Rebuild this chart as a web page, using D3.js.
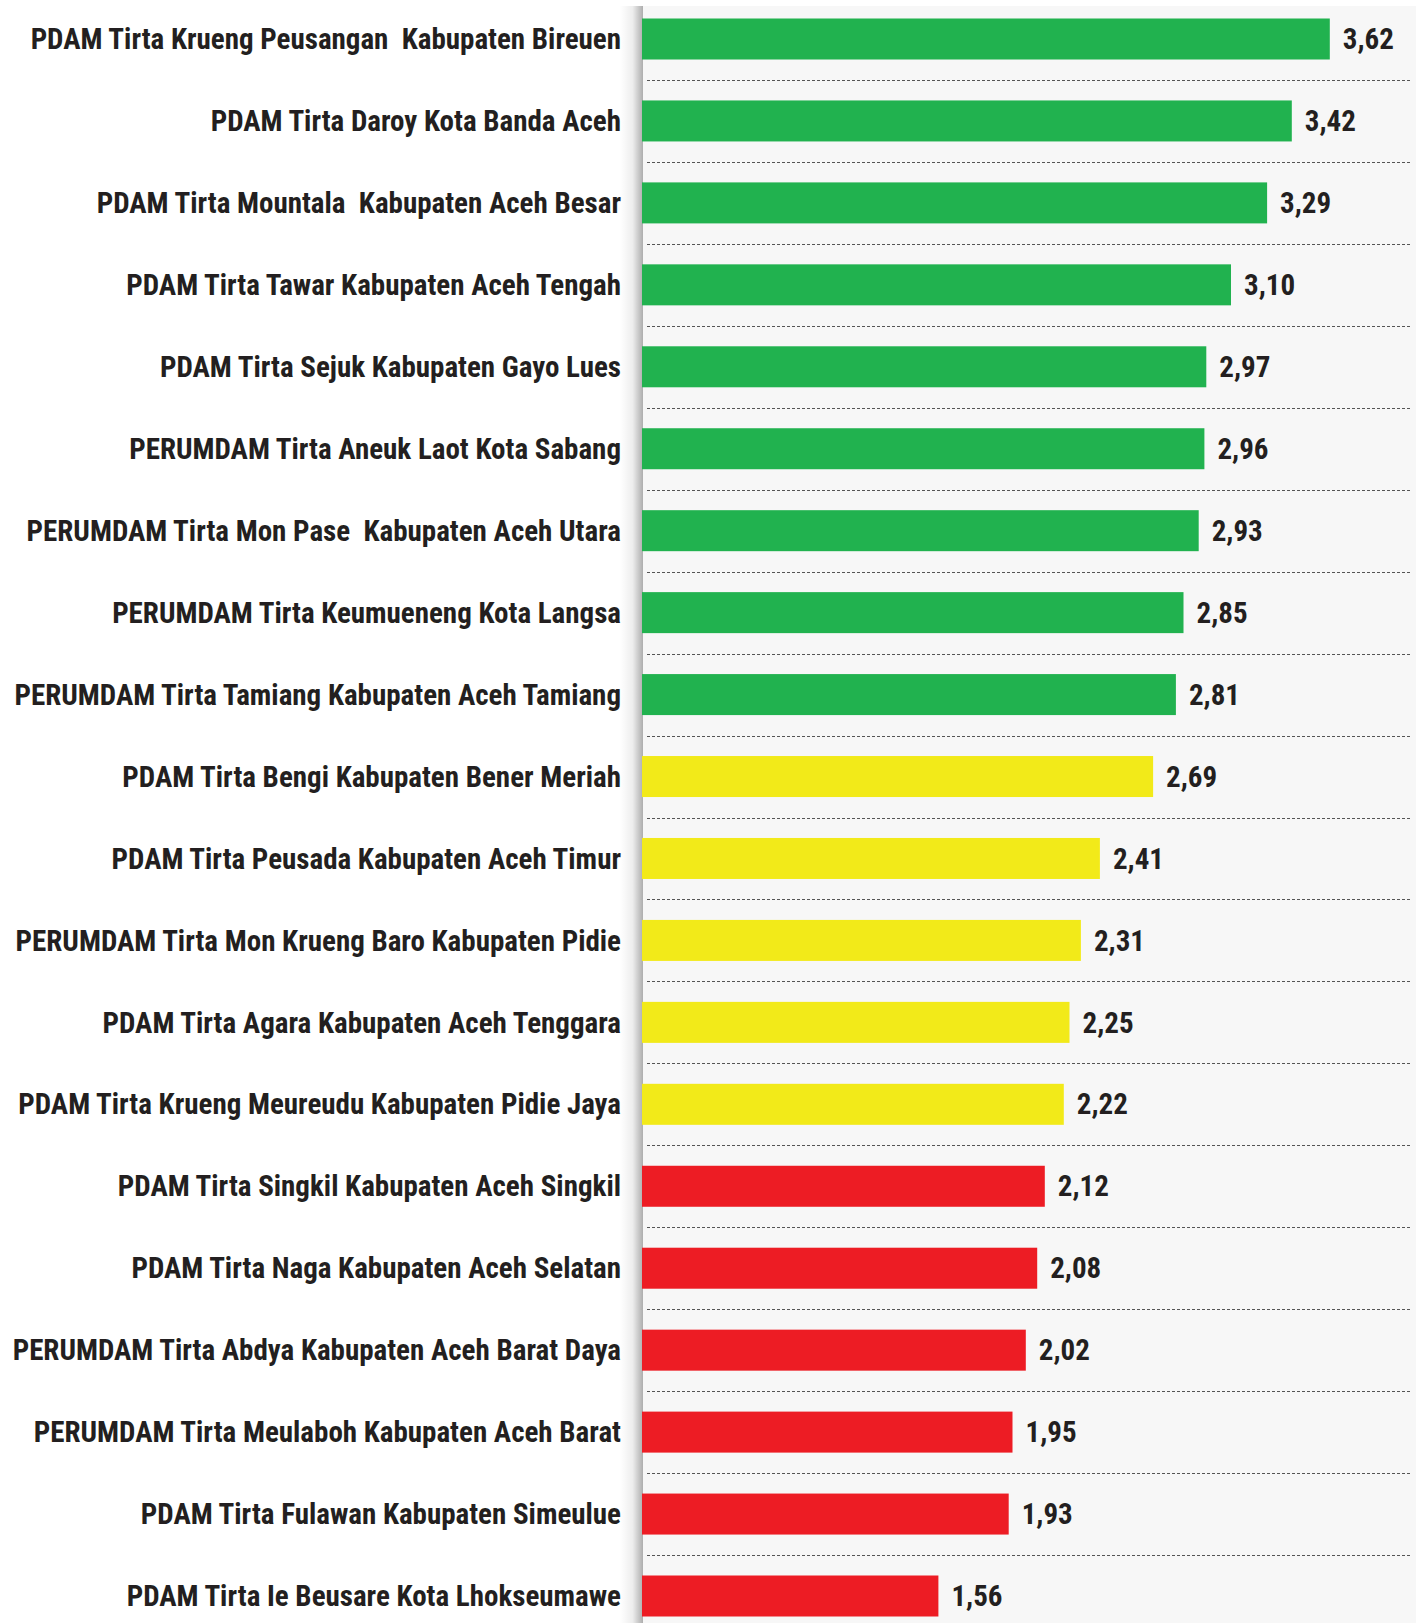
<!DOCTYPE html>
<html>
<head>
<meta charset="utf-8">
<script src="https://cdn.jsdelivr.net/npm/d3@7"></script>
<style>
    body { margin: 0; background: #ffffff; }
    svg { display: block; }
    text { font-family: "Roboto Condensed", "Roboto", sans-serif; font-weight: 700; fill: #231f20; }
</style>
</head>
<body>
<svg id="chart" width="1416" height="1623"></svg>
<script>

// PDAM names, top to bottom
let names = [
    'PDAM Tirta Krueng Peusangan  Kabupaten Bireuen',
    'PDAM Tirta Daroy Kota Banda Aceh',
    'PDAM Tirta Mountala  Kabupaten Aceh Besar',
    'PDAM Tirta Tawar Kabupaten Aceh Tengah',
    'PDAM Tirta Sejuk Kabupaten Gayo Lues',
    'PERUMDAM Tirta Aneuk Laot Kota Sabang',
    'PERUMDAM Tirta Mon Pase  Kabupaten Aceh Utara',
    'PERUMDAM Tirta Keumueneng Kota Langsa',
    'PERUMDAM Tirta Tamiang Kabupaten Aceh Tamiang',
    'PDAM Tirta Bengi Kabupaten Bener Meriah',
    'PDAM Tirta Peusada Kabupaten Aceh Timur',
    'PERUMDAM Tirta Mon Krueng Baro Kabupaten Pidie',
    'PDAM Tirta Agara Kabupaten Aceh Tenggara',
    'PDAM Tirta Krueng Meureudu Kabupaten Pidie Jaya',
    'PDAM Tirta Singkil Kabupaten Aceh Singkil',
    'PDAM Tirta Naga Kabupaten Aceh Selatan',
    'PERUMDAM Tirta Abdya Kabupaten Aceh Barat Daya',
    'PERUMDAM Tirta Meulaboh Kabupaten Aceh Barat',
    'PDAM Tirta Fulawan Kabupaten Simeulue',
    'PDAM Tirta Ie Beusare Kota Lhokseumawe'
];

let scores = [3.62, 3.42, 3.29, 3.10, 2.97, 2.96, 2.93, 2.85, 2.81, 2.69,
    2.41, 2.31, 2.25, 2.22, 2.12, 2.08, 2.02, 1.95, 1.93, 1.56];

// kinerja categories: sakit < 2.2 <= kurang sehat < 2.8 <= sehat
let thresholds = [2.2, 2.8];
let categoryColors = ['#ed1c24', '#f2ea19', '#21b24f'];

let Layout = {
    PanelX: 643,
    PanelTop: 6,
    BarX: 642,
    BarHeight: 41,
    LabelX: 621,
    FontSize: 29
};

let data = names.map((n, i) => ({ name: n, score: scores[i] }));

let svg = d3.select('#chart');
let width = +svg.attr('width');
let height = +svg.attr('height');

let x = d3
    .scaleLinear()
    .domain([0, 1])
    .range([Layout.BarX, Layout.BarX + 190]);

let y = d3
    .scalePoint()
    .domain(names)
    .range([39, 1596]);

let color = d3
    .scaleThreshold()
    .domain(thresholds)
    .range(categoryColors);

// panel with shadow on its left edge
let grad = svg.append('defs')
    .append('linearGradient')
    .attr('id', 'shadow');
grad.append('stop').attr('offset', '0').attr('stop-color', '#000').attr('stop-opacity', 0);
grad.append('stop').attr('offset', '0.55').attr('stop-color', '#000').attr('stop-opacity', 0.07);
grad.append('stop').attr('offset', '1').attr('stop-color', '#000').attr('stop-opacity', 0.32);

svg.append('rect')
    .attr('x', Layout.PanelX)
    .attr('y', Layout.PanelTop)
    .attr('width', width - Layout.PanelX)
    .attr('height', height - Layout.PanelTop)
    .attr('fill', '#f7f7f7');

svg.append('rect')
    .attr('x', Layout.PanelX - 23)
    .attr('y', Layout.PanelTop)
    .attr('width', 23)
    .attr('height', height - Layout.PanelTop)
    .attr('fill', 'url(#shadow)');

// dashed separators between rows
let mids = d3.pairs(names).map(p => (y(p[0]) + y(p[1])) / 2);
svg.append('g')
    .selectAll('line')
    .data(mids)
    .join('line')
    .attr('x1', Layout.PanelX + 4)
    .attr('x2', width - 5)
    .attr('y1', d => Math.round(d) + 0.5)
    .attr('y2', d => Math.round(d) + 0.5)
    .attr('stroke', '#555')
    .attr('stroke-width', 1)
    .attr('stroke-dasharray', '3,2');

// bars
svg.append('g')
    .selectAll('rect')
    .data(data)
    .join('rect')
    .attr('x', x(0))
    .attr('y', d => y(d.name) - Layout.BarHeight / 2)
    .attr('height', Layout.BarHeight)
    .attr('width', d => x(d.score) - x(0))
    .attr('fill', d => color(d.score));

// names on the left
svg.append('g')
    .selectAll('text')
    .data(data)
    .join('text')
    .attr('x', Layout.LabelX)
    .attr('y', d => y(d.name))
    .attr('dy', '0.35em')
    .attr('text-anchor', 'end')
    .attr('font-size', Layout.FontSize)
    .style('white-space', 'pre')
    .text(d => d.name);

// values after the bars
let fmt = d3.format('.2f');
svg.append('g')
    .selectAll('text')
    .data(data)
    .join('text')
    .attr('x', d => x(d.score) + 13)
    .attr('y', d => y(d.name))
    .attr('dy', '0.35em')
    .attr('font-size', Layout.FontSize)
    .text(d => fmt(d.score).replace('.', ','));

</script>
</body>
</html>
